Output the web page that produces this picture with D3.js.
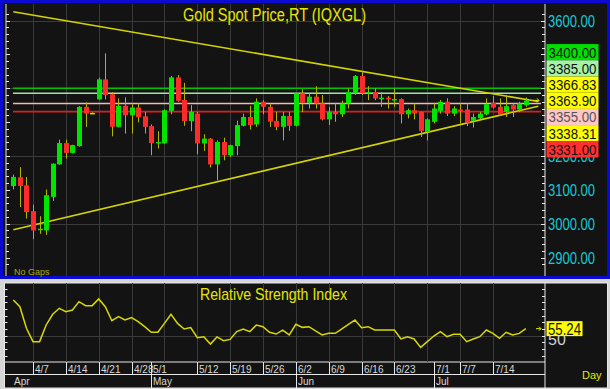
<!DOCTYPE html>
<html><head><meta charset="utf-8">
<title>Gold Spot Price</title>
<script src="https://d3js.org/d3.v7.min.js"></script>
<style>
  body { margin: 0; background: #d6d6d6; }
  svg { display: block; }
  text { font-family: "Liberation Sans Narrow", "Arial Narrow", "Liberation Sans", Arial, sans-serif; }
</style>
</head>
<body>
<svg id="chart" width="610" height="389"></svg>
<script>
// ---- data ----
const dates = ["4/2","4/3","4/4","4/7","4/8","4/9","4/10","4/11","4/14","4/15","4/16","4/17","4/18","4/21","4/22","4/23","4/24","4/25","4/28","4/29","4/30",
  "5/1","5/2","5/5","5/6","5/7","5/8","5/9","5/12","5/13","5/14","5/15","5/16","5/19","5/20","5/21","5/22","5/23","5/26","5/27","5/28","5/29","5/30",
  "6/2","6/3","6/4","6/5","6/6","6/9","6/10","6/11","6/12","6/13","6/16","6/17","6/18","6/19","6/20","6/23","6/24","6/25","6/26","6/27","6/30",
  "7/1","7/2","7/3","7/4","7/7","7/8","7/9","7/10","7/11","7/14","7/15","7/16","7/17","7/18","7/21"];
const opens  = [3111,3137,3113,3037,2981,2980,3079,3175,3238,3209,3229,3345,3327,3367,3426,3382,3286,3348,3320,3343,3317,
  3288,3239,3238,3333,3432,3365,3303,3325,3237,3251,3175,3241,3202,3229,3289,3315,3293,3360,3345,3303,3286,3318,
  3289,3385,3357,3375,3355,3308,3330,3323,3355,3385,3436,3385,3389,3370,3372,3367,3368,3323,3335,3330,3271,
  3301,3333,3360,3325,3337,3337,3304,3311,3323,3357,3345,3330,3350,3337,3350];
const highs  = [3145,3167,3138,3056,3022,3101,3178,3248,3248,3233,3347,3358,3329,3431,3503,3389,3370,3373,3355,3355,3330,
  3293,3273,3337,3436,3439,3416,3350,3330,3264,3253,3246,3254,3233,3304,3325,3348,3370,3365,3355,3330,3330,3330,
  3386,3397,3385,3406,3380,3345,3355,3363,3399,3439,3449,3406,3399,3389,3377,3399,3370,3340,3355,3331,3311,
  3357,3365,3370,3347,3355,3355,3325,3330,3370,3377,3370,3380,3355,3360,3373];
const lows   = [3101,3049,3015,2954,2970,2967,3067,3174,3192,3207,3227,3286,3326,3366,3367,3258,3284,3266,3266,3299,3266,
  3202,3222,3235,3323,3360,3289,3273,3205,3215,3166,3128,3187,3197,3202,3287,3278,3286,3323,3286,3276,3246,3274,
  3287,3330,3340,3340,3305,3291,3301,3315,3340,3380,3380,3365,3365,3345,3340,3345,3296,3311,3308,3256,3246,
  3296,3325,3318,3318,3296,3288,3284,3308,3320,3340,3318,3315,3315,3330,3345];
const closes = [3138,3111,3034,2980,2985,3084,3177,3238,3209,3232,3345,3325,3327,3426,3380,3286,3348,3320,3343,3315,3286,
  3238,3241,3335,3432,3363,3303,3330,3237,3251,3175,3241,3202,3232,3291,3315,3291,3360,3345,3301,3286,3318,3289,
  3385,3357,3375,3355,3308,3330,3323,3355,3389,3436,3385,3389,3370,3372,3367,3368,3323,3335,3325,3274,3308,
  3340,3360,3325,3340,3335,3298,3315,3325,3353,3343,3323,3347,3337,3355,3364];
const rsi = [76.7,71.7,55.5,45.5,45.5,58,66,70.5,68,69.2,75.5,72.5,72.5,77.5,71.7,61.2,64.2,61.7,63.5,60.5,
  56.7,52.5,52.5,59.2,66,59.2,55,56,48.5,49.2,43.7,49,46.2,47.2,53,55,53,58,56.7,52.5,
  51.2,54.2,50.5,58.5,56.2,56.7,53.5,50.5,51.7,51.7,55,58.5,61.7,56,56.7,54.2,54.2,54.2,54.2,47.5,
  49.2,47.5,41.2,45.5,49.7,53,49.2,51,51,45.5,47.5,49.2,54.2,51.7,48,52.5,50.5,51.7,55.24];

const priceTicks = [2900,3000,3100,3200,3300,3400,3500,3600];
const priceGrid = [3000,3200,3400,3600];
const weekLabels = ["4/7","4/14","4/21","4/28","5/1","5/12","5/19","5/26","6/2","6/9","6/16","6/23","7/1","7/7","7/14"];
const gridDates = ["4/7","4/14","4/21","4/28","5/5","5/12","5/19","5/26","6/2","6/9","6/16","6/23","6/30","7/7","7/14"];
const monthLabels = ["Apr","May","Jun","Jul"];
const monthStarts = ["4/2","5/1","6/2","7/1"];

// horizontal levels and the price tags on the right
const levelPrices = [3400,3385,3355,3331];
const levelColors = ["#00c400","#9ee89e","#f2b8b8","#d82020"];
const tagValues = [3400,3385,3366.83,3363.90,3355,3338.31,3331];
const tagFills = ["#00e000","#a6f2a6","#ffff00","#ffff00","#ffc6c6","#ffff00","#ff3030"];
// trend lines: price at first bar and at last bar
const trendUpper = [3626,3366.83];
const trendLower = [2982,3338.31];
const rsiLast = 55.24;

// ---- layout ----
const svg = d3.select("#chart");
const plotLeft = 6, plotRight = 545;
const mainTop = 4, mainBottom = 276;
const rsiTop = 283, rsiBottom = 362;

const x = d3.scalePoint().domain(dates).range([13.3, 525.8]);
const xi = d3.scaleLinear().domain([0, dates.length - 1]).range([13.3, 525.8]);
const y = d3.scaleLinear().domain([2900, 3600]).range([257.5, 20.5]);
const yr = d3.scaleLinear().domain([30, 90]).range([362.3, 282.3]);

// frames
svg.append("rect").attr("x",0).attr("y",0).attr("width",610).attr("height",389).attr("fill","#d6d6d6");
svg.append("rect").attr("x",1.5).attr("y",1.5).attr("width",607).attr("height",276)
   .attr("fill","#131313").attr("stroke","#0a0ad0").attr("stroke-width",3);
svg.append("line").attr("x1",plotRight).attr("x2",plotRight).attr("y1",mainTop).attr("y2",mainBottom)
   .attr("stroke","#e8e8e8");
svg.append("line").attr("x1",plotLeft).attr("x2",plotLeft).attr("y1",mainTop).attr("y2",mainBottom)
   .attr("stroke","#e8e8e8");

// lower panel (RSI + dates)
svg.append("rect").attr("x",4.5).attr("y",rsiTop).attr("width",603).attr("height",105)
   .attr("fill","#131313").attr("stroke","#e8e8e8");
svg.append("line").attr("x1",plotRight).attr("x2",plotRight).attr("y1",rsiTop).attr("y2",389).attr("stroke","#e8e8e8");
svg.append("line").attr("x1",4.5).attr("x2",plotRight).attr("y1",rsiBottom).attr("y2",rsiBottom).attr("stroke","#e8e8e8");
svg.append("line").attr("x1",4.5).attr("x2",plotRight).attr("y1",374.5).attr("y2",374.5).attr("stroke","#e8e8e8");

// grid lines
const grid = svg.append("g").attr("stroke","#3a3a3a").attr("stroke-width",1);
grid.selectAll(".hg").data(priceGrid).join("line")
  .attr("x1",plotLeft).attr("x2",plotRight)
  .attr("y1",d => Math.round(y(d))+0.5).attr("y2",d => Math.round(y(d))+0.5);
grid.selectAll(".vg").data(gridDates).join("line")
  .attr("x1",d => Math.round(x(d))+0.5).attr("x2",d => Math.round(x(d))+0.5)
  .attr("y1",mainTop).attr("y2",mainBottom);
grid.selectAll(".vr").data(gridDates).join("line")
  .attr("x1",d => Math.round(x(d))+0.5).attr("x2",d => Math.round(x(d))+0.5)
  .attr("y1",rsiTop).attr("y2",rsiBottom);
grid.append("line").attr("x1",plotLeft).attr("x2",plotRight)
  .attr("y1",Math.round(yr(50))+0.5).attr("y2",Math.round(yr(50))+0.5);

// price tags stack (computed first so the axis labels fully under it can be skipped)
const tagH = 16.2;
const tagMid = d3.mean(tagValues, v => y(v));
const tagTop = tagMid - tagValues.length * tagH / 2;
const tagBottom = tagTop + tagValues.length * tagH;

// price axis ticks (left and right edges)
const minorTicks = d3.range(2880, 3621, 20);
svg.append("g").selectAll("line").data(minorTicks).join("line")
  .attr("x1",d => plotRight - (d % 100 === 0 ? 4 : 3)).attr("x2",plotRight)
  .attr("y1",d => Math.round(y(d))+0.5).attr("y2",d => Math.round(y(d))+0.5)
  .attr("stroke","#e8e8e8");
svg.append("g").selectAll("line").data(minorTicks).join("line")
  .attr("x1",plotLeft).attr("x2",d => plotLeft + (d % 100 === 0 ? 4 : 3))
  .attr("y1",d => Math.round(y(d))+0.5).attr("y2",d => Math.round(y(d))+0.5)
  .attr("stroke","#e8e8e8");
svg.append("g").selectAll("text")
  .data(priceTicks.filter(d => y(d) + 6 < tagTop || y(d) > tagBottom - 8))
  .join("text")
  .attr("x",548).attr("y",d => y(d)+6)
  .attr("font-size",17).attr("fill","#18c8d2")
  .attr("textLength",47).attr("lengthAdjust","spacingAndGlyphs")
  .text(d => d.toFixed(2));

// RSI axis ticks
const rsiTicks = d3.range(35, 90, 5);
svg.append("g").selectAll("line").data(rsiTicks).join("line")
  .attr("x1",plotRight-3).attr("x2",plotRight)
  .attr("y1",d => Math.round(yr(d))+0.5).attr("y2",d => Math.round(yr(d))+0.5).attr("stroke","#e8e8e8");
svg.append("g").selectAll("line").data(rsiTicks).join("line")
  .attr("x1",4.5).attr("x2",7.5)
  .attr("y1",d => Math.round(yr(d))+0.5).attr("y2",d => Math.round(yr(d))+0.5).attr("stroke","#e8e8e8");
svg.append("text").attr("x",548).attr("y",yr(50)+9).attr("font-size",16).attr("fill","#d0d0d0").text("50");

// level lines
svg.append("g").selectAll("line").data(levelPrices).join("line")
  .attr("x1",13).attr("x2",541)
  .attr("y1",d => y(d)).attr("y2",d => y(d))
  .attr("stroke",(d,i) => levelColors[i]).attr("stroke-width",1.6);

// trend lines
const trendEnd = 79.9;
[trendUpper, trendLower].forEach(t => {
  const p = k => t[0] + (t[1]-t[0]) * k / (dates.length - 1);
  svg.append("line")
    .attr("x1",xi(0)).attr("y1",y(p(0)))
    .attr("x2",xi(trendEnd)).attr("y2",y(p(trendEnd)))
    .attr("stroke","#d4d400").attr("stroke-width",1.6);
});

// candles
const candles = svg.append("g");
dates.forEach((d,i) => {
  const cx = Math.round(x(d));
  const o = opens[i], c = closes[i];
  const up = c >= o;
  candles.append("line")
    .attr("x1",cx+0.5).attr("x2",cx+0.5)
    .attr("y1",y(highs[i])).attr("y2",y(lows[i]))
    .attr("stroke","#b4b400").attr("stroke-width",1);
  const top = y(Math.max(o,c)), bot = y(Math.min(o,c));
  candles.append("rect")
    .attr("x",cx-2).attr("width",5)
    .attr("y",top).attr("height",Math.max(1.5, bot-top))
    .attr("fill", o === c ? "#d0d000" : (up ? "#00e400" : "#ff2a2a"));
});

// last price arrow
const lastY = y(closes[closes.length-1]);
svg.append("path").attr("d",`M533,${lastY}h6m-2,-2l2,2l-2,2`)
  .attr("stroke","#e8e800").attr("fill","none");

// price tags
const tags = svg.append("g").selectAll("g").data(tagValues).join("g")
  .attr("transform",(d,i) => `translate(546.5,${tagTop + i*tagH})`);
tags.append("rect").attr("width",52).attr("height",tagH).attr("fill",(d,i) => tagFills[i]);
tags.append("text").attr("x",2).attr("y",13.5).attr("font-size",15.5)
  .attr("textLength",48).attr("lengthAdjust","spacingAndGlyphs")
  .attr("fill",(d,i) => i === 4 ? "#555" : "#111")
  .text(d => d.toFixed(2));

// RSI line
svg.append("path").datum(rsi)
  .attr("d", d3.line().x((d,i) => xi(i)).y(d => yr(d)))
  .attr("fill","none").attr("stroke","#d8d800").attr("stroke-width",1.5);
svg.append("path").attr("d",`M536,${yr(rsiLast)}h5m-2,-2l2,2l-2,2`)
  .attr("stroke","#e8e800").attr("fill","none");
svg.append("rect").attr("x",546.5).attr("y",yr(rsiLast)-7.5).attr("width",36).attr("height",15).attr("fill","#ffff00");
svg.append("text").attr("x",548).attr("y",yr(rsiLast)+6).attr("font-size",16)
  .attr("textLength",33).attr("lengthAdjust","spacingAndGlyphs").attr("fill","#111").text(rsiLast.toFixed(2));

// date axis
const dateAxis = svg.append("g");
dateAxis.selectAll("line").data(weekLabels).join("line")
  .attr("x1",d => Math.round(x(d))+0.5).attr("x2",d => Math.round(x(d))+0.5)
  .attr("y1",rsiBottom).attr("y2",374.5).attr("stroke","#e8e8e8");
dateAxis.selectAll("text").data(weekLabels).join("text")
  .attr("x",d => Math.round(x(d))+2).attr("y",373)
  .attr("font-size",10).attr("fill","#d8d8d8").text(d => d);
const monthAxis = svg.append("g");
monthAxis.selectAll("line").data(monthStarts.slice(1)).join("line")
  .attr("x1",d => Math.round(x(d))+0.5).attr("x2",d => Math.round(x(d))+0.5)
  .attr("y1",374.5).attr("y2",389).attr("stroke","#e8e8e8");
monthAxis.selectAll("text").data(monthLabels).join("text")
  .attr("x",(d,i) => i === 0 ? 14 : Math.round(x(monthStarts[i]))+2).attr("y",385)
  .attr("font-size",10).attr("fill","#d8d8d8").text(d => d);

// titles
svg.append("text").attr("x",183).attr("y",21).attr("font-size",18).attr("fill","#e6e600")
  .attr("textLength",183).attr("lengthAdjust","spacingAndGlyphs").text("Gold  Spot  Price,RT  (IQXGL)");
svg.append("text").attr("x",200).attr("y",300).attr("font-size",17).attr("fill","#e6e600")
  .attr("textLength",147).attr("lengthAdjust","spacingAndGlyphs").text("Relative  Strength  Index");
svg.append("text").attr("x",14).attr("y",275).attr("font-size",9).attr("fill","#a8a820").text("No Gaps");
svg.append("text").attr("x",582).attr("y",379).attr("font-size",11).attr("fill","#e6e600").text("Day");
</script>
</body></html>
